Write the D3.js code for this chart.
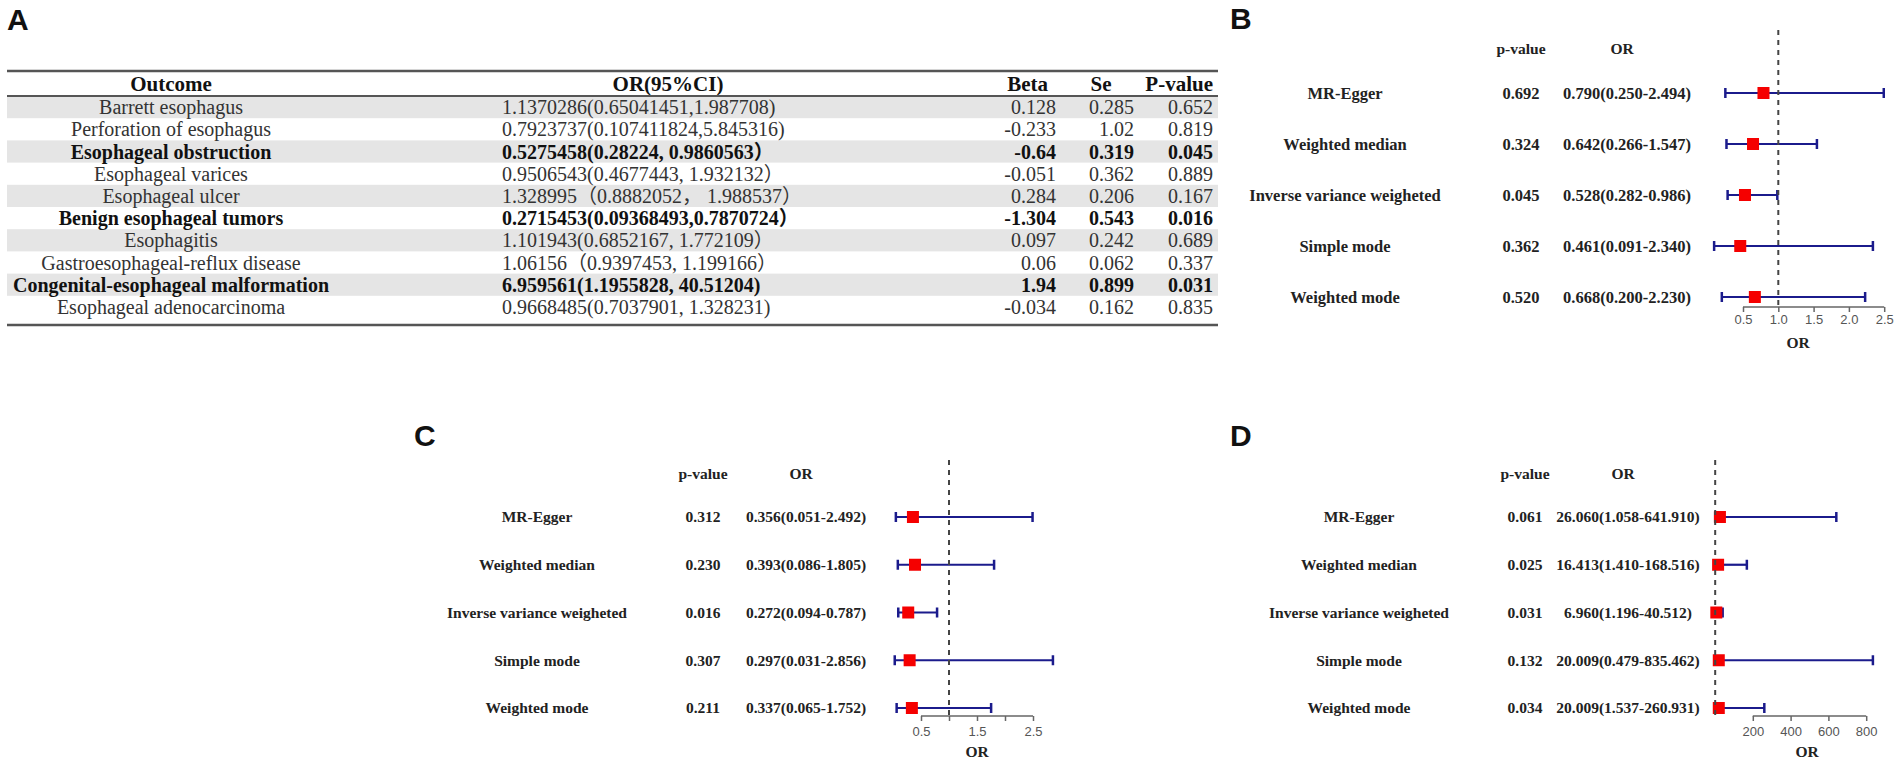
<!DOCTYPE html>
<html>
<head>
<meta charset="utf-8">
<script src="https://cdn.jsdelivr.net/npm/d3@7"></script>
<style>
	body { margin: 0; background: #fff; }
	svg { display: block; }
</style>
</head>
<body>
<svg id="fig" width="1902" height="764"></svg>
<script>
"use strict";

// ---- Panel A: table data ----
var outcomes = ["Barrett esophagus", "Perforation of esophagus", "Esophageal obstruction",
	"Esophageal varices", "Esophageal ulcer", "Benign esophageal tumors", "Esophagitis",
	"Gastroesophageal-reflux disease", "Congenital-esophageal malformation", "Esophageal adenocarcinoma"];
var orCI = ["1.1370286(0.65041451,1.987708)", "0.7923737(0.107411824,5.845316)",
	"0.5275458(0.28224, 0.9860563\uff09", "0.9506543(0.4677443, 1.932132\uff09",
	"1.328995\uff080.8882052\uff0c 1.988537\uff09", "0.2715453(0.09368493,0.7870724\uff09",
	"1.101943(0.6852167, 1.772109\uff09", "1.06156\uff080.9397453, 1.199166\uff09",
	"6.959561(1.1955828, 40.51204)", "0.9668485(0.7037901, 1.328231)"];
var betas = ["0.128", "-0.233", "-0.64", "-0.051", "0.284", "-1.304", "0.097", "0.06", "1.94", "-0.034"];
var ses = ["0.285", "1.02", "0.319", "0.362", "0.206", "0.543", "0.242", "0.062", "0.899", "0.162"];
var pvals = ["0.652", "0.819", "0.045", "0.889", "0.167", "0.016", "0.689", "0.337", "0.031", "0.835"];
var boldRows = [2, 5, 8];
var tableHeaders = ["Outcome", "OR(95%CI)", "Beta", "Se", "P-value"];

// ---- Forest plots ----
var methods = ["MR-Egger", "Weighted median", "Inverse variance weigheted", "Simple mode", "Weighted mode"];

var bP = [0.692, 0.324, 0.045, 0.362, 0.520];
var bOR = [0.790, 0.642, 0.528, 0.461, 0.668];
var bLo = [0.250, 0.266, 0.282, 0.091, 0.200];
var bHi = [2.494, 1.547, 0.986, 2.340, 2.230];

var cP = [0.312, 0.230, 0.016, 0.307, 0.211];
var cOR = [0.356, 0.393, 0.272, 0.297, 0.337];
var cLo = [0.051, 0.086, 0.094, 0.031, 0.065];
var cHi = [2.492, 1.805, 0.787, 2.856, 1.752];

var dP = [0.061, 0.025, 0.031, 0.132, 0.034];
var dOR = [26.060, 16.413, 6.960, 20.009, 20.009];
var dLo = [1.058, 1.410, 1.196, 0.479, 1.537];
var dHi = [641.910, 168.516, 40.512, 835.462, 260.931];

var bTicks = [0.5, 1.0, 1.5, 2.0, 2.5];
var cTicks = [0.5, 1.0, 1.5, 2.0, 2.5];
var cTickLabels = [0.5, 1.5, 2.5];
var dTicks = [200, 400, 600, 800];

var svg = d3.select("#fig");
var SERIF = "'Liberation Serif', 'Times New Roman', serif";
var SANS = "'Liberation Sans', Arial, sans-serif";
var CJK = "'Liberation Serif', 'Noto Sans CJK SC', serif";

function panelLetter(txt, x, y) {
	svg.append("text").attr("x", x).attr("y", y).text(txt)
		.style("font-family", SANS).style("font-weight", "bold").style("font-size", "30px").style("fill", "#111");
}

// ---------------- Panel A ----------------
function drawTable() {
	var left = 7, right = 1218, top = 71, head = 96, bottom = 325;
	var g = svg.append("g");
	var y = d3.scaleBand().domain(d3.range(outcomes.length)).range([head, head + 22.2 * outcomes.length]);

	// alternating grey bands
	g.selectAll("rect.band").data(d3.range(outcomes.length).filter(function(i) { return i % 2 === 0; }))
		.enter().append("rect").attr("class", "band")
		.attr("x", left).attr("width", right - left)
		.attr("y", function(i) { return y(i); }).attr("height", y.bandwidth())
		.style("fill", "#e5e5e5");

	// header
	var hx = [{x: 171, a: "middle"}, {x: 668, a: "middle"}, {x: 1048, a: "end"}, {x: 1101, a: "middle"}, {x: 1213, a: "end"}];
	g.selectAll("text.hd").data(tableHeaders).enter().append("text").attr("class", "hd")
		.attr("x", function(d, i) { return hx[i].x; }).attr("y", (top + head) / 2).attr("dy", "0.35em")
		.attr("text-anchor", function(d, i) { return hx[i].a; })
		.text(function(d) { return d; })
		.style("font-family", SERIF).style("font-weight", "bold").style("font-size", "21px").style("fill", "#111");

	var cols = [
		{vals: outcomes, x: 171, a: "middle", f: SERIF},
		{vals: orCI, x: 502, a: "start", f: CJK},
		{vals: betas, x: 1056, a: "end", f: SERIF},
		{vals: ses, x: 1134, a: "end", f: SERIF},
		{vals: pvals, x: 1213, a: "end", f: SERIF}
	];
	cols.forEach(function(c) {
		g.append("g").selectAll("text").data(c.vals).enter().append("text")
			.attr("x", c.x).attr("y", function(d, i) { return y(i) + y.bandwidth() / 2; }).attr("dy", "0.35em")
			.attr("text-anchor", c.a)
			.text(function(d) { return d; })
			.style("font-family", c.f).style("font-size", "20px")
			.style("font-weight", function(d, i) { return boldRows.indexOf(i) >= 0 ? "bold" : "normal"; })
			.style("fill", function(d, i) { return boldRows.indexOf(i) >= 0 ? "#111" : "#333"; });
	});

	g.append("line").attr("x1", left).attr("x2", right).attr("y1", top).attr("y2", top)
		.style("stroke", "#555").style("stroke-width", 2.5);
	g.append("line").attr("x1", left).attr("x2", right).attr("y1", head).attr("y2", head)
		.style("stroke", "#555").style("stroke-width", 2);
	g.append("line").attr("x1", left).attr("x2", right).attr("y1", bottom).attr("y2", bottom)
		.style("stroke", "#555").style("stroke-width", 2.5);
}

// ---------------- Forest panels ----------------
function drawForest(cfg, p, or, lo, hi) {
	var g = svg.append("g");
	var fmt3 = d3.format(".3f");
	var x = d3.scaleLinear().domain(cfg.domain).range(cfg.range);
	var y = d3.scalePoint().domain(methods).range([cfg.y0, cfg.y1]);

	panelLetter(cfg.letter, cfg.letterX, cfg.letterY);

	function txt(sel, size) {
		return sel.style("font-family", SERIF).style("font-weight", "bold")
			.style("font-size", size + "px").style("fill", "#222");
	}

	txt(g.append("text").attr("x", cfg.pX).attr("y", cfg.headY).attr("dy", "0.35em")
		.attr("text-anchor", "middle").text("p-value"), cfg.headSize);
	txt(g.append("text").attr("x", cfg.orX - 5).attr("y", cfg.headY).attr("dy", "0.35em")
		.attr("text-anchor", "middle").text("OR"), cfg.headSize);

	var rows = g.selectAll("g.row").data(methods).enter().append("g").attr("class", "row")
		.attr("transform", function(d) { return "translate(0," + y(d) + ")"; });

	txt(rows.append("text").attr("x", cfg.labelX).attr("dy", "0.35em").attr("text-anchor", "middle")
		.text(function(d) { return d; }), cfg.size);
	txt(rows.append("text").attr("x", cfg.pX).attr("dy", "0.35em").attr("text-anchor", "middle")
		.text(function(d, i) { return fmt3(p[i]); }), cfg.size);
	txt(rows.append("text").attr("x", cfg.orX).attr("dy", "0.35em").attr("text-anchor", "middle")
		.text(function(d, i) { return fmt3(or[i]) + "(" + fmt3(lo[i]) + "-" + fmt3(hi[i]) + ")"; }), cfg.size);

	// reference line at OR = 1
	g.append("line").attr("x1", x(1)).attr("x2", x(1)).attr("y1", cfg.dashTop).attr("y2", cfg.axisY)
		.style("stroke", "#444").style("stroke-width", 2).style("stroke-dasharray", "5,5");

	// CI whiskers
	var navy = "#1b1b8c";
	rows.append("line").attr("x1", function(d, i) { return x(lo[i]); }).attr("x2", function(d, i) { return x(hi[i]); })
		.style("stroke", navy).style("stroke-width", 2.2);
	rows.append("line").attr("x1", function(d, i) { return x(lo[i]); }).attr("x2", function(d, i) { return x(lo[i]); })
		.attr("y1", -5).attr("y2", 5).style("stroke", navy).style("stroke-width", 2.5);
	rows.append("line").attr("x1", function(d, i) { return x(hi[i]); }).attr("x2", function(d, i) { return x(hi[i]); })
		.attr("y1", -5).attr("y2", 5).style("stroke", navy).style("stroke-width", 2.5);
	rows.append("rect").attr("x", function(d, i) { return x(or[i]) - 6; }).attr("y", -6)
		.attr("width", 12).attr("height", 12).style("fill", "#f50000");

	// axis
	var axis = d3.axisBottom(x).tickValues(cfg.ticks).tickSize(5).tickSizeOuter(0)
		.tickFormat(cfg.tickFormat);
	var ag = g.append("g").attr("transform", "translate(0," + cfg.axisY + ")").call(axis);
	ag.select(".domain").remove();
	ag.append("line").attr("x1", x(cfg.ticks[0])).attr("x2", x(cfg.ticks[cfg.ticks.length - 1]))
		.style("stroke", "#666").style("stroke-width", 1.5);
	ag.selectAll(".tick line").style("stroke", "#666").style("stroke-width", 1.5);
	ag.selectAll(".tick text").attr("y", cfg.tickLabelY).attr("dy", "0.35em")
		.style("font-family", SANS).style("font-size", "13px").style("fill", "#555");

	txt(g.append("text").attr("x", cfg.axisLabelX).attr("y", cfg.axisY + 36).attr("dy", "0.35em")
		.attr("text-anchor", "middle").text("OR"), cfg.headSize);
}

drawTable();
panelLetter("A", 7, 30);

drawForest({
	letter: "B", letterX: 1230, letterY: 29,
	headY: 49, headSize: 15.5, size: 16.5,
	labelX: 1345, pX: 1521, orX: 1627,
	y0: 93, y1: 297,
	domain: [0, 2.5], range: [1707.7, 1884.2],
	dashTop: 30, axisY: 307, axisLabelX: 1798, tickLabelY: 12,
	ticks: bTicks, tickFormat: d3.format(".1f")
}, bP, bOR, bLo, bHi);

drawForest({
	letter: "C", letterX: 414, letterY: 446,
	headY: 474, headSize: 15.5, size: 15.5,
	labelX: 537, pX: 703, orX: 806,
	y0: 517, y1: 708,
	domain: [0, 2.5], range: [893, 1033],
	dashTop: 460, axisY: 716, axisLabelX: 977, tickLabelY: 15,
	ticks: cTicks, tickFormat: function(d) { return cTickLabels.indexOf(d) >= 0 ? d3.format(".1f")(d) : ""; }
}, cP, cOR, cLo, cHi);

drawForest({
	letter: "D", letterX: 1230, letterY: 446,
	headY: 474, headSize: 15.5, size: 15.5,
	labelX: 1359, pX: 1525, orX: 1628,
	y0: 517, y1: 708,
	domain: [0, 1000], range: [1715, 1904],
	dashTop: 460, axisY: 716, axisLabelX: 1807, tickLabelY: 15,
	ticks: dTicks, tickFormat: d3.format("d")
}, dP, dOR, dLo, dHi);
</script>
</body>
</html>
